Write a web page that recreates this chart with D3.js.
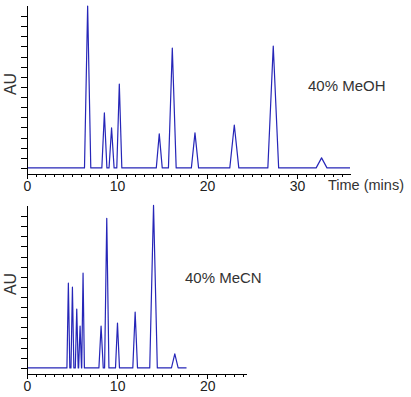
<!DOCTYPE html>
<meta charset="utf-8">
<style>
body { margin: 0; background: #fff; font-family: "Liberation Sans", Arial, sans-serif; }
.axis path, .axis line { stroke: #000; shape-rendering: crispEdges; }
.axis text { font-size: 14px; fill: #222; font-family: "Liberation Sans", Arial, sans-serif; }
.trace { fill: none; stroke: #2626b8; stroke-width: 1.2; stroke-linejoin: round; }
.lbl { font-size: 15px; fill: #333; }
</style>
<body>
<script src="https://cdn.jsdelivr.net/npm/d3@7"></script>
<script>

// 40% MeOH peaks: retention time (min), height (AU ticks), half width (min)
var meohTimes  = [6.74, 8.6, 9.4, 10.26, 14.7, 16.15, 18.67, 23.04, 27.37, 32.74];
var meohHeight = [16.0, 5.43, 3.95, 8.29, 3.36, 11.85, 3.46, 4.24, 12.04, 0.99];
var meohHalfW  = [0.35, 0.28, 0.28, 0.28, 0.33, 0.43, 0.4, 0.5, 0.6, 0.6];
var meohEnd = 35.9;

// 40% MeCN peaks
var mecnTimes  = [4.59, 5.04, 5.52, 5.89, 6.22, 8.22, 8.85, 10.04, 12.0, 14.04, 16.4];
var mecnHeight = [8.37, 7.98, 5.81, 4.14, 9.36, 4.14, 14.78, 4.43, 5.52, 16.06, 1.38];
var mecnHalfW  = [0.16, 0.16, 0.16, 0.16, 0.15, 0.24, 0.24, 0.22, 0.26, 0.42, 0.37];
var mecnEnd = 17.7;

var xLabels = [0, 10, 20, 30];
var auTicks = d3.range(0, 16);

var svg = d3.select("body").append("svg")
    .attr("width", 411)
    .attr("height", 397);

function chromatogram(opt) {
  var x = d3.scaleLinear().domain([0, opt.xMax]).range([27, opt.xRight]);
  var y = d3.scaleLinear().domain([-0.9, 16.1]).range([opt.top + 172, opt.top]);

  // build the trace: baseline, then start / apex / end of every peak
  var pts = [[0, 0]];
  opt.times.forEach(function(t, i) {
    pts.push([t - opt.halfW[i], 0]);
    pts.push([t, opt.heights[i]]);
    pts.push([t + opt.halfW[i], 0]);
  });
  pts.push([opt.end, 0]);

  var line = d3.line()
      .x(function(d) { return x(d[0]); })
      .y(function(d) { return y(d[1]); });

  svg.append("path")
      .datum(pts)
      .attr("class", "trace")
      .attr("d", line);

  var xAxisY = y(-0.59);

  // minor ticks every minute
  svg.append("g")
      .attr("class", "axis")
      .attr("transform", "translate(0," + xAxisY + ")")
      .call(d3.axisBottom(x).tickValues(d3.range(0, Math.floor(opt.xMax) + 1)).tickSize(3).tickSizeOuter(0).tickFormat(""));

  // labelled ticks
  svg.append("g")
      .attr("class", "axis")
      .attr("transform", "translate(0," + xAxisY + ")")
      .call(d3.axisBottom(x).tickValues(opt.labels).tickSize(5).tickSizeOuter(0).tickPadding(2))
      .select(".domain").remove();

  svg.append("g")
      .attr("class", "axis")
      .attr("transform", "translate(27,0)")
      .call(d3.axisLeft(y).tickValues(auTicks).tickSize(6).tickSizeOuter(0).tickFormat(""));

  svg.append("text")
      .attr("class", "lbl")
      .attr("transform", "translate(16," + (opt.top + 79) + ") rotate(-90)")
      .attr("text-anchor", "middle")
      .style("font-size", "16px")
      .text("AU");

  svg.append("text")
      .attr("class", "lbl")
      .attr("x", opt.nameX)
      .attr("y", opt.nameY)
      .text(opt.name);
}

chromatogram({
  top: 5, xMax: 35.9, xRight: 350, end: meohEnd,
  times: meohTimes, heights: meohHeight, halfW: meohHalfW,
  labels: xLabels, name: "40% MeOH", nameX: 308, nameY: 91
});

chromatogram({
  top: 205, xMax: 24.3, xRight: 246, end: mecnEnd,
  times: mecnTimes, heights: mecnHeight, halfW: mecnHalfW,
  labels: [0, 10, 20], name: "40% MeCN", nameX: 185, nameY: 283
});

svg.append("text")
    .attr("class", "lbl")
    .attr("x", 328)
    .attr("y", 190)
    .style("font-size", "14.5px")
    .text("Time (mins)");

</script>
</body>
